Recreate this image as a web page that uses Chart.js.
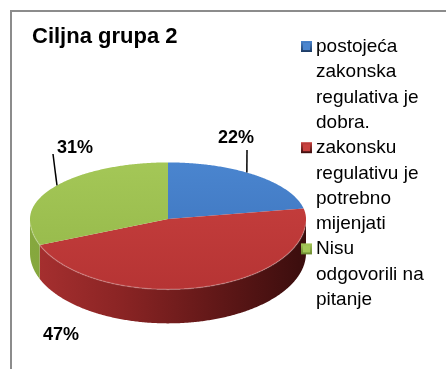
<!DOCTYPE html>
<html>
<head>
<meta charset="utf-8">
<style>
  html, body { margin: 0; padding: 0; background: #fff; }
  #wrap { position: relative; width: 446px; height: 369px; overflow: hidden; }
</style>
<script src="https://cdn.jsdelivr.net/npm/chart.js@4.4.0/dist/chart.umd.min.js"></script>
</head>
<body>
<div id="wrap"><canvas id="pie" width="446" height="369"></canvas></div>
<script>
// podaci
const chartTitle = 'Ciljna grupa 2';
const categories = [
    'postojeća zakonska regulativa je dobra.',
    'zakonsku regulativu je potrebno mijenjati',
    'Nisu odgovorili na pitanje'
];
const shares = [22, 47, 31];

// izgled
const topColors = [['#4a85cf', '#3a70b9'], ['#c9413f', '#b63434'], ['#a4c757', '#93b648']];
const sideColors = [['#2f5a94', '#1c3a63'], ['#a83030', '#8a2424', '#621818', '#3a0d0d'], ['#86a83e', '#6d8a30']];
const TILT_BACK = 0.41;   // stražnja polovica elipse (perspektiva)
const TILT_FRONT = 0.51;  // prednja polovica elipse
const DEPTH = 34;         // debljina pite
const FONT = "'Liberation Sans', Arial, sans-serif";
// položaj oznaka postotaka i mjesto gdje linija dodiruje krišku (udio unutar kriške)
const labelSpots = [
    { x: 236, y: 143, lead: [247, 150], frac: 0.44 },
    { x: 61, y: 340, lead: null },
    { x: 75, y: 153, lead: [53, 154], frac: 0.52 }
];

function wrapText(ctx, text, maxWidth) {
    const words = text.split(' ');
    const lines = [];
    let line = '';
    words.forEach(w => {
        const test = line ? line + ' ' + w : w;
        if (ctx.measureText(test).width > maxWidth && line) {
            lines.push(line);
            line = w;
        } else {
            line = test;
        }
    });
    if (line) lines.push(line);
    return lines;
}

// točka na rubu nagnute pite za kut t (kut kao u Chart.js, u smjeru kazaljke)
function rimPoint(cx, cy, r, t, dy) {
    const s = Math.sin(t);
    const ry = r * (s > 0 ? TILT_FRONT : TILT_BACK);
    return [cx + r * Math.cos(t), cy + ry * s + (dy || 0)];
}

function traceRim(ctx, cx, cy, r, a0, a1, dy, first) {
    const steps = Math.max(2, Math.ceil(Math.abs(a1 - a0) / 0.01));
    for (let k = 0; k <= steps; k++) {
        const p = rimPoint(cx, cy, r, a0 + (a1 - a0) * k / steps, dy);
        if (k === 0 && first) ctx.moveTo(p[0], p[1]);
        else ctx.lineTo(p[0], p[1]);
    }
}

const pie3d = {
    id: 'pie3d',
    beforeDraw(chart) {
        const ctx = chart.ctx;
        ctx.save();
        // okvir (vidljiv samo gore i lijevo)
        ctx.strokeStyle = '#8c8c8c';
        ctx.lineWidth = 2;
        ctx.beginPath();
        ctx.moveTo(11, 369);
        ctx.lineTo(11, 11);
        ctx.lineTo(446, 11);
        ctx.stroke();
        // naslov
        ctx.fillStyle = '#000';
        ctx.font = 'bold 22px ' + FONT;
        ctx.textBaseline = 'alphabetic';
        ctx.fillText(chartTitle, 32, 43);
        ctx.restore();
    },
    beforeDatasetsDraw(chart) {
        const ctx = chart.ctx;
        const meta = chart.getDatasetMeta(0);
        const arcs = meta.data.map(el => el.getProps(['x', 'y', 'startAngle', 'endAngle', 'outerRadius'], true));
        const cx = arcs[0].x, cy = arcs[0].y, r = arcs[0].outerRadius;

        ctx.save();
        // bočne stranice, samo prednja polovica
        arcs.forEach((a, i) => {
            const a0 = Math.max(a.startAngle, 0);
            const a1 = Math.min(a.endAngle, Math.PI);
            if (a1 <= a0) return;
            ctx.beginPath();
            traceRim(ctx, cx, cy, r, a0, a1, 0, true);
            traceRim(ctx, cx, cy, r, a1, a0, DEPTH, false);
            ctx.closePath();
            const g = ctx.createLinearGradient(cx - r, 0, cx + r, 0);
            const cols = sideColors[i];
            cols.forEach((c, k) => g.addColorStop(k / (cols.length - 1), c));
            ctx.fillStyle = g;
            ctx.fill();
        });

        // gornja ploha
        arcs.forEach((a, i) => {
            ctx.beginPath();
            ctx.moveTo(cx, cy);
            traceRim(ctx, cx, cy, r, a.startAngle, a.endAngle, 0, false);
            ctx.closePath();
            const g = ctx.createLinearGradient(0, cy - r * TILT_BACK, 0, cy + r * TILT_FRONT);
            g.addColorStop(0, topColors[i][0]);
            g.addColorStop(1, topColors[i][1]);
            ctx.fillStyle = g;
            ctx.fill();
        });

        // svijetli rub na prednjoj strani
        ctx.beginPath();
        traceRim(ctx, cx, cy, r, 0.08, Math.PI - 0.08, 0, true);
        ctx.strokeStyle = 'rgba(255,255,255,0.2)';
        ctx.lineWidth = 1.5;
        ctx.stroke();
        ctx.restore();
        return false;
    },
    afterDraw(chart) {
        const ctx = chart.ctx;
        const meta = chart.getDatasetMeta(0);
        const values = chart.data.datasets[0].data;
        ctx.save();

        // oznake postotaka
        ctx.font = 'bold 18px ' + FONT;
        ctx.fillStyle = '#000';
        ctx.textAlign = 'center';
        ctx.textBaseline = 'alphabetic';
        meta.data.forEach((el, i) => {
            const a = el.getProps(['x', 'y', 'startAngle', 'endAngle', 'outerRadius'], true);
            const spot = labelSpots[i];
            ctx.fillText(values[i] + '%', spot.x, spot.y);
            if (spot.lead) {
                const t = a.startAngle + spot.frac * (a.endAngle - a.startAngle);
                const p = rimPoint(a.x, a.y, a.outerRadius, t);
                ctx.beginPath();
                ctx.moveTo(spot.lead[0], spot.lead[1]);
                ctx.lineTo(p[0], p[1]);
                ctx.strokeStyle = '#000';
                ctx.lineWidth = 1.5;
                ctx.stroke();
            }
        });

        // legenda
        ctx.textAlign = 'left';
        ctx.font = '19px ' + FONT;
        const lineH = 25.3;
        let base = 52;
        chart.data.labels.forEach((label, i) => {
            const mx = 301, my = base - 11, ms = 11;
            const g = ctx.createLinearGradient(0, my, 0, my + ms);
            g.addColorStop(0, topColors[i][0]);
            g.addColorStop(1, sideColors[i][sideColors[i].length - 1]);
            ctx.fillStyle = g;
            ctx.fillRect(mx, my, ms, ms);
            ctx.fillStyle = topColors[i][0];
            ctx.fillRect(mx + 2, my + 2, ms - 4, ms - 4);
            ctx.fillStyle = '#000';
            wrapText(ctx, label, 120).forEach(line => {
                ctx.fillText(line, 316, base);
                base += lineH;
            });
        });
        ctx.restore();
    }
};

new Chart(document.getElementById('pie'), {
    type: 'pie',
    data: {
        labels: categories,
        datasets: [{
            data: shares,
            backgroundColor: topColors.map(c => c[0]),
            borderWidth: 0
        }]
    },
    options: {
        responsive: false,
        animation: false,
        events: [],
        layout: { padding: { left: 30, right: 140, top: 81, bottom: 12 } },
        plugins: {
            legend: { display: false },
            title: { display: false },
            tooltip: { enabled: false }
        }
    },
    plugins: [pie3d]
});
</script>
</body>
</html>
